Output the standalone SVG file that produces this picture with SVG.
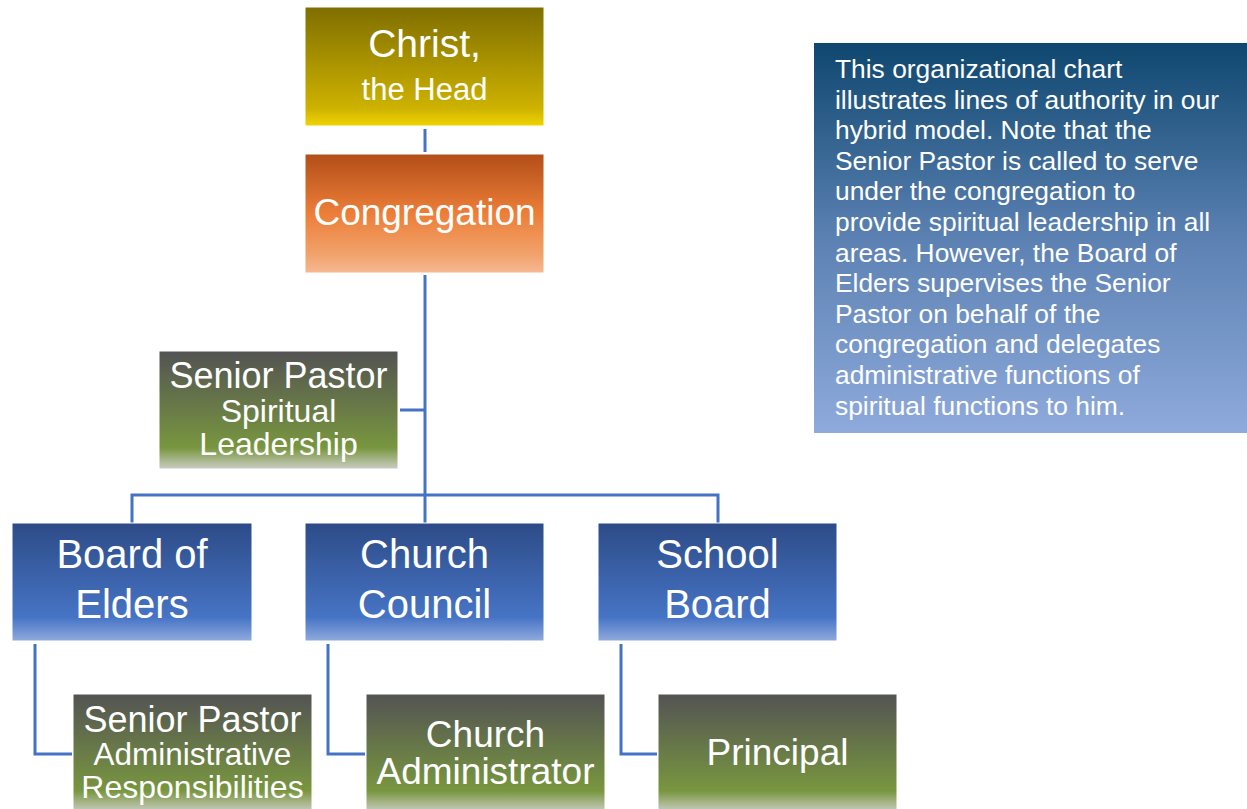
<svg xmlns="http://www.w3.org/2000/svg" width="1247" height="809" viewBox="0 0 1247 809">
  <defs>
    <linearGradient id="gHead" x1="0" y1="0" x2="0" y2="1">
      <stop offset="0" stop-color="#7F6E00"/>
      <stop offset="0.85" stop-color="#CDB200"/>
      <stop offset="1" stop-color="#F0D400"/>
    </linearGradient>
    <linearGradient id="gCong" x1="0" y1="0" x2="0" y2="1">
      <stop offset="0" stop-color="#B24E18"/>
      <stop offset="0.5" stop-color="#EC7E38"/>
      <stop offset="0.85" stop-color="#F1A36C"/>
      <stop offset="1" stop-color="#F6B993"/>
    </linearGradient>
    <linearGradient id="gBlue" x1="0" y1="0" x2="0" y2="1">
      <stop offset="0" stop-color="#2D4B87"/>
      <stop offset="0.8" stop-color="#4674C5"/>
      <stop offset="1" stop-color="#90AADD"/>
    </linearGradient>
    <linearGradient id="gGreen" x1="0" y1="0" x2="0" y2="1">
      <stop offset="0" stop-color="#535353"/>
      <stop offset="0.82" stop-color="#78963F"/>
      <stop offset="1" stop-color="#CBCDC4"/>
    </linearGradient>
    <linearGradient id="gNote" x1="0" y1="0" x2="0" y2="1">
      <stop offset="0" stop-color="#0E476F"/>
      <stop offset="0.5" stop-color="#5B81B2"/>
      <stop offset="1" stop-color="#8FAADC"/>
    </linearGradient>
    <style>
      .t { font-family: "Liberation Sans", Arial, sans-serif; fill: #FFFFFF; text-anchor: middle; }
      .note { font-family: "Liberation Sans", Arial, sans-serif; fill: #FFFFFF; font-size: 25px; }
      .box { stroke: #FFFFFF; stroke-width: 1; }
      .wire { fill: none; stroke: #4472C4; stroke-width: 3; }
    </style>
  </defs>

  <rect width="1247" height="809" fill="#FFFFFF"/>

  <!-- connectors -->
  <g id="connectors">
    <path class="wire" d="M425 129 V152"/>
    <path class="wire" d="M425 275 V495"/>
    <path class="wire" d="M400 410 H425"/>
    <path class="wire" d="M132 523 V495 H718 V523"/>
    <path class="wire" d="M425 495 V523"/>
    <path class="wire" d="M35 644 V754 H72"/>
    <path class="wire" d="M328 644 V754 H365"/>
    <path class="wire" d="M621 644 V754 H657"/>
  </g>

  <g id="christ">
    <rect class="box" x="305" y="7" width="239" height="119" fill="url(#gHead)"/>
    <text class="t" x="424.5" y="57" font-size="39">Christ,</text>
    <text class="t" x="424.5" y="100" font-size="31">the Head</text>
  </g>

  <g id="congregation">
    <rect class="box" x="305" y="154" width="239" height="119" fill="url(#gCong)"/>
    <text class="t" x="424.5" y="225" font-size="37">Congregation</text>
  </g>

  <g id="pastor-spiritual">
    <rect class="box" x="159" y="351" width="239" height="118" fill="url(#gGreen)"/>
    <text class="t" x="278.5" y="388" font-size="36">Senior Pastor</text>
    <text class="t" x="278.5" y="422" font-size="32">Spiritual</text>
    <text class="t" x="278.5" y="455" font-size="32">Leadership</text>
  </g>

  <g id="elders">
    <rect class="box" x="12" y="523" width="240" height="118" fill="url(#gBlue)"/>
    <text class="t" x="132" y="568" font-size="40">Board of</text>
    <text class="t" x="132" y="618" font-size="40">Elders</text>
  </g>

  <g id="council">
    <rect class="box" x="305" y="523" width="239" height="118" fill="url(#gBlue)"/>
    <text class="t" x="424.5" y="568" font-size="40">Church</text>
    <text class="t" x="424.5" y="618" font-size="40">Council</text>
  </g>

  <g id="school-board">
    <rect class="box" x="598" y="523" width="239" height="118" fill="url(#gBlue)"/>
    <text class="t" x="717.5" y="568" font-size="40">School</text>
    <text class="t" x="717.5" y="618" font-size="40">Board</text>
  </g>

  <g id="pastor-admin">
    <rect class="box" x="73" y="694" width="239" height="118" fill="url(#gGreen)"/>
    <text class="t" x="192.5" y="732" font-size="36">Senior Pastor</text>
    <text class="t" x="192.5" y="765" font-size="31.5">Administrative</text>
    <text class="t" x="192.5" y="798" font-size="32">Responsibilities</text>
  </g>

  <g id="administrator">
    <rect class="box" x="366" y="694" width="239" height="118" fill="url(#gGreen)"/>
    <text class="t" x="485.5" y="747" font-size="37">Church</text>
    <text class="t" x="485.5" y="784" font-size="37">Administrator</text>
  </g>

  <g id="principal">
    <rect class="box" x="658" y="694" width="239" height="118" fill="url(#gGreen)"/>
    <text class="t" x="777.5" y="765" font-size="37">Principal</text>
  </g>

  <g id="note">
    <rect x="814" y="43" width="433" height="390" fill="url(#gNote)"/>
    <!-- text block is set slightly wide -->
    <g transform="translate(835 0) scale(1.055 1) translate(-835 0)">
      <text class="note" x="835" y="78">This organizational chart</text>
      <text class="note" x="835" y="108.6">illustrates lines of authority in our</text>
      <text class="note" x="835" y="139.2">hybrid model. Note that the</text>
      <text class="note" x="835" y="169.8">Senior Pastor is called to serve</text>
      <text class="note" x="835" y="200.4">under the congregation to</text>
      <text class="note" x="835" y="231">provide spiritual leadership in all</text>
      <text class="note" x="835" y="261.6">areas. However, the Board of</text>
      <text class="note" x="835" y="292.2">Elders supervises the Senior</text>
      <text class="note" x="835" y="322.8">Pastor on behalf of the</text>
      <text class="note" x="835" y="353.4">congregation and delegates</text>
      <text class="note" x="835" y="384">administrative functions of</text>
      <text class="note" x="835" y="414.6">spiritual functions to him.</text>
    </g>
  </g>
</svg>
